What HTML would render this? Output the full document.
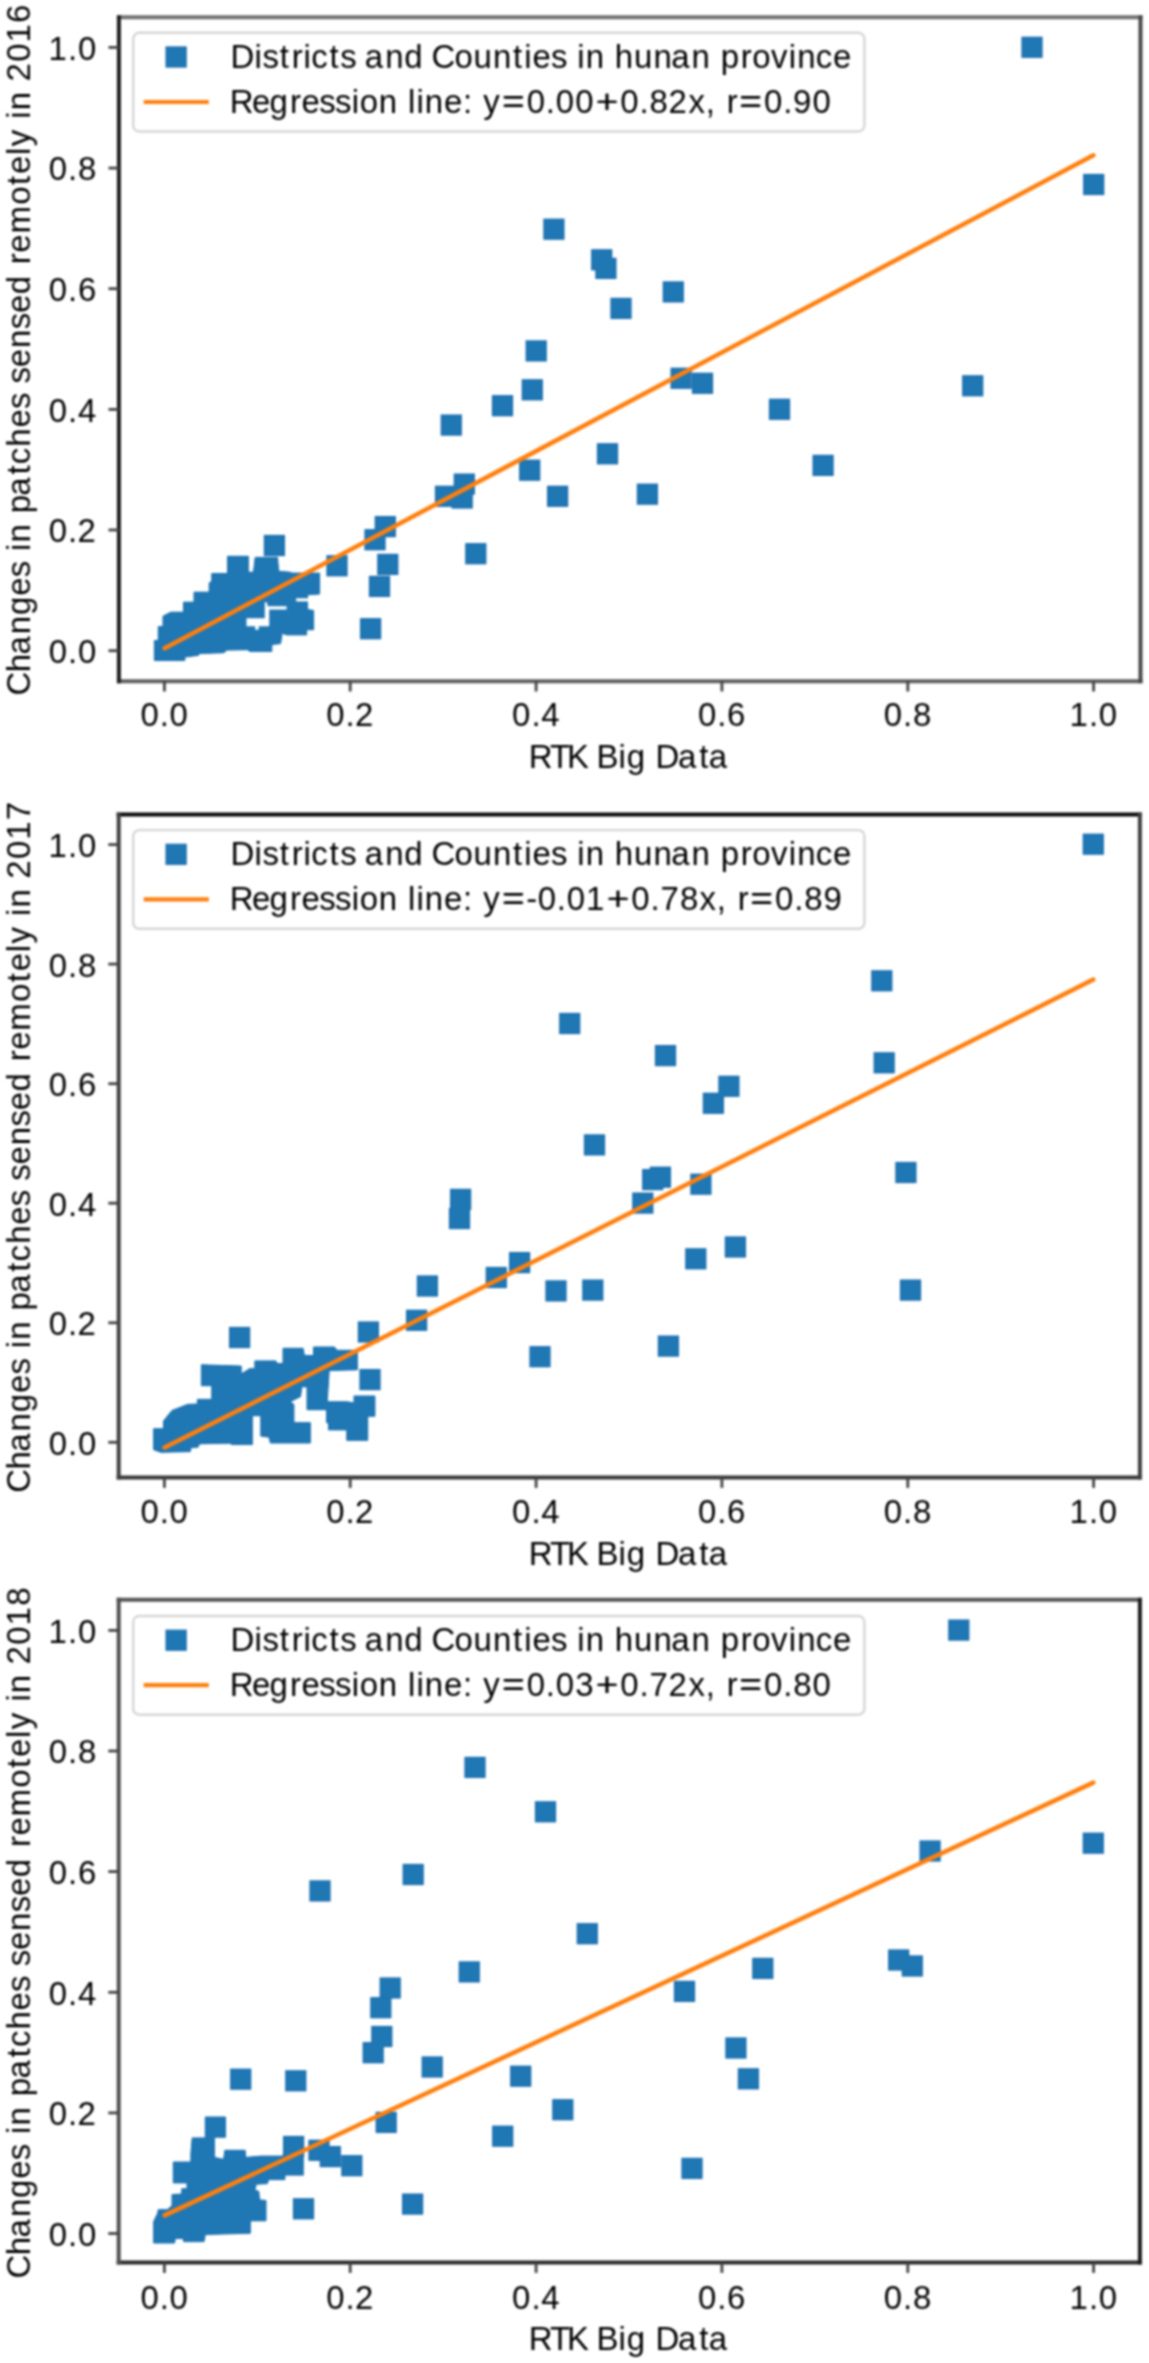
<!DOCTYPE html>
<html><head><meta charset="utf-8"><title>Scatter plots</title>
<style>
html,body{margin:0;padding:0;background:#fff;}
body{width:1149px;height:2363px;overflow:hidden;}
svg{display:block;filter:blur(0.9px);}
text{font-family:"Liberation Sans",sans-serif;font-size:32.3px;fill:#000;}
</style></head>
<body>
<svg width="1149" height="2363" viewBox="0 0 1149 2363">
<rect width="1149" height="2363" fill="#fff"/>
<g fill="#196bac"><rect x="543.30" y="218.60" width="21.20" height="21.20"/><rect x="591.10" y="249.20" width="21.20" height="21.20"/><rect x="595.30" y="257.80" width="21.20" height="21.20"/><rect x="662.70" y="281.30" width="21.20" height="21.20"/><rect x="610.40" y="297.80" width="21.20" height="21.20"/><rect x="525.60" y="340.30" width="21.20" height="21.20"/><rect x="521.70" y="379.20" width="21.20" height="21.20"/><rect x="670.50" y="367.70" width="21.20" height="21.20"/><rect x="691.90" y="372.70" width="21.20" height="21.20"/><rect x="491.90" y="395.10" width="21.20" height="21.20"/><rect x="440.70" y="414.50" width="21.20" height="21.20"/><rect x="596.90" y="443.20" width="21.20" height="21.20"/><rect x="519.10" y="459.60" width="21.20" height="21.20"/><rect x="453.70" y="473.50" width="21.20" height="21.20"/><rect x="434.90" y="485.70" width="21.20" height="21.20"/><rect x="451.60" y="487.40" width="21.20" height="21.20"/><rect x="547.00" y="485.70" width="21.20" height="21.20"/><rect x="636.80" y="483.60" width="21.20" height="21.20"/><rect x="768.90" y="398.70" width="21.20" height="21.20"/><rect x="812.50" y="454.80" width="21.20" height="21.20"/><rect x="962.10" y="375.20" width="21.20" height="21.20"/><rect x="1021.40" y="36.70" width="21.20" height="21.20"/><rect x="1083.10" y="173.90" width="21.20" height="21.20"/><rect x="465.20" y="543.10" width="21.20" height="21.20"/><rect x="374.70" y="516.00" width="21.20" height="21.20"/><rect x="364.40" y="529.10" width="21.20" height="21.20"/><rect x="377.20" y="553.80" width="21.20" height="21.20"/><rect x="326.40" y="555.20" width="21.20" height="21.20"/><rect x="368.90" y="575.80" width="21.20" height="21.20"/><rect x="360.00" y="618.10" width="21.20" height="21.20"/><rect x="263.80" y="534.90" width="21.20" height="21.20"/><polygon points="154.4,660.5 154.4,640.5 158.3,640.5 158.3,626.6 163.0,626.6 163.0,616.2 170.9,612.2 183.5,612.2 183.5,602.2 194.0,602.2 194.0,592.2 209.2,592.2 209.2,583.1 211.8,581.3 211.8,573.5 227.5,573.5 227.5,556.3 248.3,556.3 248.3,572.2 253.5,572.2 255.2,557.4 277.5,557.4 278.7,571.3 290.0,572.2 292.0,573.1 319.6,573.1 319.6,594.0 307.5,594.8 307.5,609.6 313.6,610.5 313.6,629.7 306.6,629.7 306.6,634.9 286.6,634.9 282.2,633.1 280.5,643.6 271.8,644.5 271.8,651.4 250.0,651.4 247.4,649.7 226.6,650.1 224.0,652.7 198.7,653.6 198.7,655.3 184.8,657.1 184.8,660.5" stroke="#196bac" stroke-width="1.0"/></g>
<g fill="#1f77b4"><rect x="544.30" y="219.60" width="19.20" height="19.20"/><rect x="592.10" y="250.20" width="19.20" height="19.20"/><rect x="596.30" y="258.80" width="19.20" height="19.20"/><rect x="663.70" y="282.30" width="19.20" height="19.20"/><rect x="611.40" y="298.80" width="19.20" height="19.20"/><rect x="526.60" y="341.30" width="19.20" height="19.20"/><rect x="522.70" y="380.20" width="19.20" height="19.20"/><rect x="671.50" y="368.70" width="19.20" height="19.20"/><rect x="692.90" y="373.70" width="19.20" height="19.20"/><rect x="492.90" y="396.10" width="19.20" height="19.20"/><rect x="441.70" y="415.50" width="19.20" height="19.20"/><rect x="597.90" y="444.20" width="19.20" height="19.20"/><rect x="520.10" y="460.60" width="19.20" height="19.20"/><rect x="454.70" y="474.50" width="19.20" height="19.20"/><rect x="435.90" y="486.70" width="19.20" height="19.20"/><rect x="452.60" y="488.40" width="19.20" height="19.20"/><rect x="548.00" y="486.70" width="19.20" height="19.20"/><rect x="637.80" y="484.60" width="19.20" height="19.20"/><rect x="769.90" y="399.70" width="19.20" height="19.20"/><rect x="813.50" y="455.80" width="19.20" height="19.20"/><rect x="963.10" y="376.20" width="19.20" height="19.20"/><rect x="1022.40" y="37.70" width="19.20" height="19.20"/><rect x="1084.10" y="174.90" width="19.20" height="19.20"/><rect x="466.20" y="544.10" width="19.20" height="19.20"/><rect x="375.70" y="517.00" width="19.20" height="19.20"/><rect x="365.40" y="530.10" width="19.20" height="19.20"/><rect x="378.20" y="554.80" width="19.20" height="19.20"/><rect x="327.40" y="556.20" width="19.20" height="19.20"/><rect x="369.90" y="576.80" width="19.20" height="19.20"/><rect x="361.00" y="619.10" width="19.20" height="19.20"/><rect x="264.80" y="535.90" width="19.20" height="19.20"/><polygon points="154.4,660.5 154.4,640.5 158.3,640.5 158.3,626.6 163.0,626.6 163.0,616.2 170.9,612.2 183.5,612.2 183.5,602.2 194.0,602.2 194.0,592.2 209.2,592.2 209.2,583.1 211.8,581.3 211.8,573.5 227.5,573.5 227.5,556.3 248.3,556.3 248.3,572.2 253.5,572.2 255.2,557.4 277.5,557.4 278.7,571.3 290.0,572.2 292.0,573.1 319.6,573.1 319.6,594.0 307.5,594.8 307.5,609.6 313.6,610.5 313.6,629.7 306.6,629.7 306.6,634.9 286.6,634.9 282.2,633.1 280.5,643.6 271.8,644.5 271.8,651.4 250.0,651.4 247.4,649.7 226.6,650.1 224.0,652.7 198.7,653.6 198.7,655.3 184.8,657.1 184.8,660.5"/></g>
<polygon fill="#fff" points="246.5,618.3 264.8,618.3 264.8,601.8 267.4,603.0 267.4,606.2 286.6,606.2 286.6,609.6 269.2,609.6 269.2,626.2 258.7,626.2 258.7,629.7 255.2,629.7 255.2,626.2 246.5,626.2"/>
<polygon fill="#fff" points="296.1,598.3 308.6,598.3 308.6,601.4 296.1,601.4"/>

<line x1="164.6" y1="648.3" x2="1093.4" y2="155.3" stroke="#ff7f0e" stroke-width="4.5" stroke-linecap="round"/>
<rect x="133.2" y="32.8" width="731.2" height="98.7" rx="6" fill="#fff" fill-opacity="0.8" stroke="#d6d6d6" stroke-width="2.4"/>
<rect x="166.00" y="46.90" width="20.20" height="20.20" fill="#1f77b4" stroke="#196bac" stroke-width="1.0"/>
<line x1="143.7" y1="102.0" x2="208.8" y2="102.0" stroke="#ff7f0e" stroke-width="4.2"/>
<text transform="translate(230.50 67.80) scale(1.02 1)" x="-0.10 23.65 31.32 48.29 60.07 71.63 79.16 97.13 107.52 123.18 131.75 151.63 170.39 189.05 197.19 219.67 238.25 257.36 277.08 288.10 296.13 314.21 329.87 339.98 348.28 366.69 376.74 395.64 414.75 432.21 452.09 470.50 480.72 500.37 511.54 529.80 547.33 555.63 573.84 590.80" y="0">Districts and Counties in hunan province</text>
<text transform="translate(230.50 112.80) scale(1.02 1)" x="-0.79 21.10 38.25 58.24 69.51 86.93 102.54 118.79 126.71 145.42 163.83 173.92 182.26 190.56 209.26 227.97 237.49 247.79 267.86 290.37 309.15 318.95 338.01 359.65 382.16 400.93 410.73 429.40 449.03 466.00 475.55 486.41 500.51 523.02 541.80 551.51 570.66" y="0">Regression line: y=0.00+0.82x, r=0.90</text><text transform="translate(513.33 112.80) scale(1.23 1)" x="-9.42" y="0">=</text><text transform="translate(606.95 112.80) scale(1.23 1)" x="-9.42" y="0">+</text><text transform="translate(750.64 112.80) scale(1.23 1)" x="-9.42" y="0">=</text>
<line x1="118.9" y1="17.3" x2="1140.5" y2="17.3" stroke="#707070" stroke-width="4.0" stroke-linecap="square"/>
<line x1="118.9" y1="681.2" x2="1140.5" y2="681.2" stroke="#606060" stroke-width="4.0" stroke-linecap="square"/>
<line x1="118.9" y1="17.3" x2="118.9" y2="681.2" stroke="#1e1e1e" stroke-width="4.0" stroke-linecap="square"/>
<line x1="1140.5" y1="17.3" x2="1140.5" y2="681.2" stroke="#484848" stroke-width="4.0" stroke-linecap="square"/>
<g stroke="#444" stroke-width="2.8"><line x1="164.4" y1="681.2" x2="164.4" y2="691.5"/><line x1="108.5" y1="650.7" x2="118.9" y2="650.7"/><line x1="350.2" y1="681.2" x2="350.2" y2="691.5"/><line x1="108.5" y1="530.0" x2="118.9" y2="530.0"/><line x1="536.1" y1="681.2" x2="536.1" y2="691.5"/><line x1="108.5" y1="409.4" x2="118.9" y2="409.4"/><line x1="721.9" y1="681.2" x2="721.9" y2="691.5"/><line x1="108.5" y1="288.7" x2="118.9" y2="288.7"/><line x1="907.8" y1="681.2" x2="907.8" y2="691.5"/><line x1="108.5" y1="168.1" x2="118.9" y2="168.1"/><line x1="1093.6" y1="681.2" x2="1093.6" y2="691.5"/><line x1="108.5" y1="47.4" x2="118.9" y2="47.4"/></g>
<text transform="translate(140.11 726.10) scale(1.02 1)" x="0.34 19.22 28.92" y="0" font-size="33.0">0.0</text>
<text transform="translate(48.41 663.10) scale(1.02 1)" x="0.34 19.22 28.92" y="0" font-size="33.0">0.0</text>
<text transform="translate(325.95 726.10) scale(1.02 1)" x="0.34 19.22 28.53" y="0" font-size="33.0">0.2</text>
<text transform="translate(48.41 542.44) scale(1.02 1)" x="0.34 19.22 28.53" y="0" font-size="33.0">0.2</text>
<text transform="translate(511.79 726.10) scale(1.02 1)" x="0.34 19.22 28.92" y="0" font-size="33.0">0.4</text>
<text transform="translate(48.41 421.78) scale(1.02 1)" x="0.34 19.22 28.92" y="0" font-size="33.0">0.4</text>
<text transform="translate(697.63 726.10) scale(1.02 1)" x="0.34 19.22 28.92" y="0" font-size="33.0">0.6</text>
<text transform="translate(48.41 301.12) scale(1.02 1)" x="0.34 19.22 28.92" y="0" font-size="33.0">0.6</text>
<text transform="translate(883.47 726.10) scale(1.02 1)" x="0.34 19.22 28.92" y="0" font-size="33.0">0.8</text>
<text transform="translate(48.41 180.46) scale(1.02 1)" x="0.34 19.22 28.92" y="0" font-size="33.0">0.8</text>
<text transform="translate(1069.31 726.10) scale(1.02 1)" x="0.16 19.22 28.92" y="0" font-size="33.0">1.0</text>
<text transform="translate(48.41 59.80) scale(1.02 1)" x="0.16 19.22 28.92" y="0" font-size="33.0">1.0</text>
<text transform="translate(529.60 767.50) scale(1.02 1)" x="-0.79 20.10 36.62 56.57 65.53 87.22 95.31 113.97 123.39 145.60 166.21 175.70" y="0">RTK Big Data</text>
<g transform="translate(29.5 349.1) rotate(-90)"><text transform="translate(-345.11 0.00) scale(1.02 1)" x="-1.38 21.44 38.94 58.82 77.59 96.54 114.61 130.28 140.39 148.69 167.10 177.32 194.68 215.29 225.53 242.73 261.47 279.55 295.21 304.68 320.63 339.34 357.69 373.65 392.13 410.79 421.65 432.92 451.61 479.76 499.20 509.93 528.64 537.17 554.11 564.22 572.53 590.94 600.60 620.05 638.94 658.17" y="0">Changes in patches sensed remotely in 2016</text></g>
<g fill="#196bac"><rect x="1082.70" y="833.60" width="21.20" height="21.20"/><rect x="871.20" y="970.20" width="21.20" height="21.20"/><rect x="559.10" y="1012.90" width="21.20" height="21.20"/><rect x="654.90" y="1045.00" width="21.20" height="21.20"/><rect x="873.60" y="1052.20" width="21.20" height="21.20"/><rect x="718.30" y="1075.70" width="21.20" height="21.20"/><rect x="702.80" y="1092.70" width="21.20" height="21.20"/><rect x="583.90" y="1134.30" width="21.20" height="21.20"/><rect x="895.30" y="1161.90" width="21.20" height="21.20"/><rect x="642.10" y="1169.00" width="21.20" height="21.20"/><rect x="649.80" y="1166.60" width="21.20" height="21.20"/><rect x="690.30" y="1173.60" width="21.20" height="21.20"/><rect x="632.20" y="1192.50" width="21.20" height="21.20"/><rect x="450.00" y="1188.80" width="21.20" height="21.20"/><rect x="448.90" y="1207.90" width="21.20" height="21.20"/><rect x="509.00" y="1252.00" width="21.20" height="21.20"/><rect x="685.20" y="1248.20" width="21.20" height="21.20"/><rect x="724.80" y="1236.40" width="21.20" height="21.20"/><rect x="485.70" y="1266.90" width="21.20" height="21.20"/><rect x="416.80" y="1275.40" width="21.20" height="21.20"/><rect x="545.40" y="1280.30" width="21.20" height="21.20"/><rect x="582.20" y="1279.50" width="21.20" height="21.20"/><rect x="899.90" y="1279.50" width="21.20" height="21.20"/><rect x="406.00" y="1309.70" width="21.20" height="21.20"/><rect x="529.40" y="1346.10" width="21.20" height="21.20"/><rect x="657.80" y="1335.50" width="21.20" height="21.20"/><rect x="357.80" y="1321.40" width="21.20" height="21.20"/><rect x="359.40" y="1369.00" width="21.20" height="21.20"/><rect x="229.00" y="1326.90" width="21.20" height="21.20"/><polygon points="153.7,1449.7 153.7,1428.8 163.5,1428.8 163.5,1421.0 172.0,1410.5 187.7,1404.4 197.4,1404.0 197.4,1399.4 211.8,1399.4 211.8,1385.7 201.4,1385.7 201.4,1364.8 241.2,1366.1 241.2,1374.0 249.7,1368.7 254.9,1368.7 254.9,1360.9 275.8,1360.9 277.1,1363.5 283.0,1363.5 283.0,1348.3 303.1,1348.3 304.4,1355.5 313.5,1355.5 313.5,1347.0 334.4,1347.0 337.0,1350.3 357.3,1350.3 357.3,1369.8 329.2,1370.5 327.2,1401.8 347.5,1401.8 354.0,1403.1 354.0,1396.0 374.9,1396.0 374.9,1416.2 367.7,1416.2 367.7,1440.3 346.8,1440.3 346.8,1429.9 328.5,1429.9 328.5,1422.7 326.6,1422.7 326.6,1409.7 307.0,1409.7 307.0,1386.8 301.8,1386.8 300.5,1396.6 290.0,1401.8 293.9,1404.4 293.9,1422.7 310.3,1422.7 310.3,1443.0 270.4,1443.0 269.1,1437.1 269.9,1437.3 260.8,1436.0 260.8,1415.7 252.3,1415.7 252.3,1444.5 231.4,1444.5 230.1,1443.2 199.4,1443.8 198.1,1447.1 190.9,1447.7 190.3,1451.6 160.9,1452.3" stroke="#196bac" stroke-width="1.0"/></g>
<g fill="#1f77b4"><rect x="1083.70" y="834.60" width="19.20" height="19.20"/><rect x="872.20" y="971.20" width="19.20" height="19.20"/><rect x="560.10" y="1013.90" width="19.20" height="19.20"/><rect x="655.90" y="1046.00" width="19.20" height="19.20"/><rect x="874.60" y="1053.20" width="19.20" height="19.20"/><rect x="719.30" y="1076.70" width="19.20" height="19.20"/><rect x="703.80" y="1093.70" width="19.20" height="19.20"/><rect x="584.90" y="1135.30" width="19.20" height="19.20"/><rect x="896.30" y="1162.90" width="19.20" height="19.20"/><rect x="643.10" y="1170.00" width="19.20" height="19.20"/><rect x="650.80" y="1167.60" width="19.20" height="19.20"/><rect x="691.30" y="1174.60" width="19.20" height="19.20"/><rect x="633.20" y="1193.50" width="19.20" height="19.20"/><rect x="451.00" y="1189.80" width="19.20" height="19.20"/><rect x="449.90" y="1208.90" width="19.20" height="19.20"/><rect x="510.00" y="1253.00" width="19.20" height="19.20"/><rect x="686.20" y="1249.20" width="19.20" height="19.20"/><rect x="725.80" y="1237.40" width="19.20" height="19.20"/><rect x="486.70" y="1267.90" width="19.20" height="19.20"/><rect x="417.80" y="1276.40" width="19.20" height="19.20"/><rect x="546.40" y="1281.30" width="19.20" height="19.20"/><rect x="583.20" y="1280.50" width="19.20" height="19.20"/><rect x="900.90" y="1280.50" width="19.20" height="19.20"/><rect x="407.00" y="1310.70" width="19.20" height="19.20"/><rect x="530.40" y="1347.10" width="19.20" height="19.20"/><rect x="658.80" y="1336.50" width="19.20" height="19.20"/><rect x="358.80" y="1322.40" width="19.20" height="19.20"/><rect x="360.40" y="1370.00" width="19.20" height="19.20"/><rect x="230.00" y="1327.90" width="19.20" height="19.20"/><polygon points="153.7,1449.7 153.7,1428.8 163.5,1428.8 163.5,1421.0 172.0,1410.5 187.7,1404.4 197.4,1404.0 197.4,1399.4 211.8,1399.4 211.8,1385.7 201.4,1385.7 201.4,1364.8 241.2,1366.1 241.2,1374.0 249.7,1368.7 254.9,1368.7 254.9,1360.9 275.8,1360.9 277.1,1363.5 283.0,1363.5 283.0,1348.3 303.1,1348.3 304.4,1355.5 313.5,1355.5 313.5,1347.0 334.4,1347.0 337.0,1350.3 357.3,1350.3 357.3,1369.8 329.2,1370.5 327.2,1401.8 347.5,1401.8 354.0,1403.1 354.0,1396.0 374.9,1396.0 374.9,1416.2 367.7,1416.2 367.7,1440.3 346.8,1440.3 346.8,1429.9 328.5,1429.9 328.5,1422.7 326.6,1422.7 326.6,1409.7 307.0,1409.7 307.0,1386.8 301.8,1386.8 300.5,1396.6 290.0,1401.8 293.9,1404.4 293.9,1422.7 310.3,1422.7 310.3,1443.0 270.4,1443.0 269.1,1437.1 269.9,1437.3 260.8,1436.0 260.8,1415.7 252.3,1415.7 252.3,1444.5 231.4,1444.5 230.1,1443.2 199.4,1443.8 198.1,1447.1 190.9,1447.7 190.3,1451.6 160.9,1452.3"/></g>

<line x1="164.6" y1="1447.5" x2="1093.3" y2="979.6" stroke="#ff7f0e" stroke-width="4.5" stroke-linecap="round"/>
<rect x="133.2" y="830.1" width="731.2" height="98.7" rx="6" fill="#fff" fill-opacity="0.8" stroke="#d6d6d6" stroke-width="2.4"/>
<rect x="166.00" y="844.20" width="20.20" height="20.20" fill="#1f77b4" stroke="#196bac" stroke-width="1.0"/>
<line x1="143.7" y1="899.3" x2="208.8" y2="899.3" stroke="#ff7f0e" stroke-width="4.2"/>
<text transform="translate(230.50 865.10) scale(1.02 1)" x="-0.10 23.65 31.32 48.29 60.07 71.63 79.16 97.13 107.52 123.18 131.75 151.63 170.39 189.05 197.19 219.67 238.25 257.36 277.08 288.10 296.13 314.21 329.87 339.98 348.28 366.69 376.74 395.64 414.75 432.21 452.09 470.50 480.72 500.37 511.54 529.80 547.33 555.63 573.84 590.80" y="0">Districts and Counties in hunan province</text>
<text transform="translate(230.50 910.10) scale(1.02 1)" x="-0.79 21.10 38.25 58.24 69.51 86.93 102.54 118.79 126.71 145.42 163.83 173.92 182.26 190.56 209.26 227.97 237.49 247.79 267.86 289.86 301.18 319.96 329.76 348.64 370.45 392.97 411.74 421.48 440.60 459.84 476.81 486.36 497.22 511.32 533.83 552.61 562.41 581.37" y="0">Regression line: y=-0.01+0.78x, r=0.89</text><text transform="translate(513.33 910.10) scale(1.23 1)" x="-9.42" y="0">=</text><text transform="translate(617.98 910.10) scale(1.23 1)" x="-9.42" y="0">+</text><text transform="translate(761.66 910.10) scale(1.23 1)" x="-9.42" y="0">=</text>
<line x1="118.7" y1="814.4" x2="1139.9" y2="814.4" stroke="#0a0a0a" stroke-width="4.0" stroke-linecap="square"/>
<line x1="118.7" y1="1477.6" x2="1139.9" y2="1477.6" stroke="#383838" stroke-width="4.0" stroke-linecap="square"/>
<line x1="118.7" y1="814.4" x2="118.7" y2="1477.6" stroke="#404040" stroke-width="4.0" stroke-linecap="square"/>
<line x1="1139.9" y1="814.4" x2="1139.9" y2="1477.6" stroke="#404040" stroke-width="4.0" stroke-linecap="square"/>
<g stroke="#444" stroke-width="2.8"><line x1="164.4" y1="1477.6" x2="164.4" y2="1487.9"/><line x1="108.3" y1="1442.3" x2="118.7" y2="1442.3"/><line x1="350.2" y1="1477.6" x2="350.2" y2="1487.9"/><line x1="108.3" y1="1322.8" x2="118.7" y2="1322.8"/><line x1="536.1" y1="1477.6" x2="536.1" y2="1487.9"/><line x1="108.3" y1="1203.2" x2="118.7" y2="1203.2"/><line x1="721.9" y1="1477.6" x2="721.9" y2="1487.9"/><line x1="108.3" y1="1083.7" x2="118.7" y2="1083.7"/><line x1="907.8" y1="1477.6" x2="907.8" y2="1487.9"/><line x1="108.3" y1="964.1" x2="118.7" y2="964.1"/><line x1="1093.6" y1="1477.6" x2="1093.6" y2="1487.9"/><line x1="108.3" y1="844.6" x2="118.7" y2="844.6"/></g>
<text transform="translate(140.11 1523.10) scale(1.02 1)" x="0.34 19.22 28.92" y="0" font-size="33.0">0.0</text>
<text transform="translate(48.41 1454.70) scale(1.02 1)" x="0.34 19.22 28.92" y="0" font-size="33.0">0.0</text>
<text transform="translate(325.95 1523.10) scale(1.02 1)" x="0.34 19.22 28.53" y="0" font-size="33.0">0.2</text>
<text transform="translate(48.41 1335.16) scale(1.02 1)" x="0.34 19.22 28.53" y="0" font-size="33.0">0.2</text>
<text transform="translate(511.79 1523.10) scale(1.02 1)" x="0.34 19.22 28.92" y="0" font-size="33.0">0.4</text>
<text transform="translate(48.41 1215.62) scale(1.02 1)" x="0.34 19.22 28.92" y="0" font-size="33.0">0.4</text>
<text transform="translate(697.63 1523.10) scale(1.02 1)" x="0.34 19.22 28.92" y="0" font-size="33.0">0.6</text>
<text transform="translate(48.41 1096.08) scale(1.02 1)" x="0.34 19.22 28.92" y="0" font-size="33.0">0.6</text>
<text transform="translate(883.47 1523.10) scale(1.02 1)" x="0.34 19.22 28.92" y="0" font-size="33.0">0.8</text>
<text transform="translate(48.41 976.54) scale(1.02 1)" x="0.34 19.22 28.92" y="0" font-size="33.0">0.8</text>
<text transform="translate(1069.31 1523.10) scale(1.02 1)" x="0.16 19.22 28.92" y="0" font-size="33.0">1.0</text>
<text transform="translate(48.41 857.00) scale(1.02 1)" x="0.16 19.22 28.92" y="0" font-size="33.0">1.0</text>
<text transform="translate(529.60 1564.50) scale(1.02 1)" x="-0.79 20.10 36.62 56.57 65.53 87.22 95.31 113.97 123.39 145.60 166.21 175.70" y="0">RTK Big Data</text>
<g transform="translate(29.5 1146.3) rotate(-90)"><text transform="translate(-345.11 0.00) scale(1.02 1)" x="-1.38 21.44 38.94 58.82 77.59 96.54 114.61 130.28 140.39 148.69 167.10 177.32 194.68 215.29 225.53 242.73 261.47 279.55 295.21 304.68 320.63 339.34 357.69 373.65 392.13 410.79 421.65 432.92 451.61 479.76 499.20 509.93 528.64 537.17 554.11 564.22 572.53 590.94 600.60 620.05 638.94 658.11" y="0">Changes in patches sensed remotely in 2017</text></g>
<g fill="#196bac"><rect x="948.20" y="1619.50" width="21.20" height="21.20"/><rect x="464.40" y="1756.80" width="21.20" height="21.20"/><rect x="534.90" y="1801.20" width="21.20" height="21.20"/><rect x="402.60" y="1863.90" width="21.20" height="21.20"/><rect x="309.40" y="1880.30" width="21.20" height="21.20"/><rect x="576.70" y="1923.10" width="21.20" height="21.20"/><rect x="458.70" y="1961.30" width="21.20" height="21.20"/><rect x="379.60" y="1977.40" width="21.20" height="21.20"/><rect x="370.20" y="1997.10" width="21.20" height="21.20"/><rect x="371.20" y="2025.90" width="21.20" height="21.20"/><rect x="362.60" y="2042.10" width="21.20" height="21.20"/><rect x="421.60" y="2056.40" width="21.20" height="21.20"/><rect x="285.20" y="2070.20" width="21.20" height="21.20"/><rect x="230.10" y="2068.60" width="21.20" height="21.20"/><rect x="510.10" y="2065.60" width="21.20" height="21.20"/><rect x="552.20" y="2099.10" width="21.20" height="21.20"/><rect x="375.60" y="2111.80" width="21.20" height="21.20"/><rect x="492.10" y="2125.60" width="21.20" height="21.20"/><rect x="283.00" y="2135.90" width="21.20" height="21.20"/><rect x="282.60" y="2154.40" width="21.20" height="21.20"/><rect x="308.40" y="2139.70" width="21.20" height="21.20"/><rect x="319.70" y="2146.00" width="21.20" height="21.20"/><rect x="341.20" y="2155.10" width="21.20" height="21.20"/><rect x="292.90" y="2198.20" width="21.20" height="21.20"/><rect x="402.00" y="2193.50" width="21.20" height="21.20"/><rect x="673.90" y="1980.80" width="21.20" height="21.20"/><rect x="752.20" y="1957.80" width="21.20" height="21.20"/><rect x="725.30" y="2037.40" width="21.20" height="21.20"/><rect x="737.80" y="2068.20" width="21.20" height="21.20"/><rect x="681.40" y="2157.80" width="21.20" height="21.20"/><rect x="919.50" y="1840.40" width="21.20" height="21.20"/><rect x="1082.70" y="1832.60" width="21.20" height="21.20"/><rect x="888.10" y="1949.40" width="21.20" height="21.20"/><rect x="901.70" y="1955.40" width="21.20" height="21.20"/><polygon points="153.7,2243.0 153.7,2221.4 157.6,2213.6 158.3,2209.7 167.4,2209.7 172.0,2205.7 172.0,2194.6 181.8,2194.0 181.8,2188.8 187.0,2188.8 187.0,2182.9 173.3,2182.9 173.3,2162.0 190.9,2162.0 190.9,2153.5 192.2,2137.9 205.3,2137.9 205.3,2117.0 225.5,2117.0 225.5,2137.2 214.4,2137.2 214.4,2157.4 223.6,2159.4 224.9,2150.3 245.1,2150.3 245.7,2157.4 261.4,2156.1 284.9,2156.1 284.9,2179.6 268.6,2179.6 267.3,2183.6 256.2,2184.2 254.9,2190.1 258.8,2191.4 259.5,2199.9 266.0,2200.5 266.0,2220.8 250.3,2220.8 250.3,2233.2 205.3,2234.5 204.0,2241.6 183.7,2241.6 183.1,2238.4 175.2,2238.4 174.6,2243.0" stroke="#196bac" stroke-width="1.0"/></g>
<g fill="#1f77b4"><rect x="949.20" y="1620.50" width="19.20" height="19.20"/><rect x="465.40" y="1757.80" width="19.20" height="19.20"/><rect x="535.90" y="1802.20" width="19.20" height="19.20"/><rect x="403.60" y="1864.90" width="19.20" height="19.20"/><rect x="310.40" y="1881.30" width="19.20" height="19.20"/><rect x="577.70" y="1924.10" width="19.20" height="19.20"/><rect x="459.70" y="1962.30" width="19.20" height="19.20"/><rect x="380.60" y="1978.40" width="19.20" height="19.20"/><rect x="371.20" y="1998.10" width="19.20" height="19.20"/><rect x="372.20" y="2026.90" width="19.20" height="19.20"/><rect x="363.60" y="2043.10" width="19.20" height="19.20"/><rect x="422.60" y="2057.40" width="19.20" height="19.20"/><rect x="286.20" y="2071.20" width="19.20" height="19.20"/><rect x="231.10" y="2069.60" width="19.20" height="19.20"/><rect x="511.10" y="2066.60" width="19.20" height="19.20"/><rect x="553.20" y="2100.10" width="19.20" height="19.20"/><rect x="376.60" y="2112.80" width="19.20" height="19.20"/><rect x="493.10" y="2126.60" width="19.20" height="19.20"/><rect x="284.00" y="2136.90" width="19.20" height="19.20"/><rect x="283.60" y="2155.40" width="19.20" height="19.20"/><rect x="309.40" y="2140.70" width="19.20" height="19.20"/><rect x="320.70" y="2147.00" width="19.20" height="19.20"/><rect x="342.20" y="2156.10" width="19.20" height="19.20"/><rect x="293.90" y="2199.20" width="19.20" height="19.20"/><rect x="403.00" y="2194.50" width="19.20" height="19.20"/><rect x="674.90" y="1981.80" width="19.20" height="19.20"/><rect x="753.20" y="1958.80" width="19.20" height="19.20"/><rect x="726.30" y="2038.40" width="19.20" height="19.20"/><rect x="738.80" y="2069.20" width="19.20" height="19.20"/><rect x="682.40" y="2158.80" width="19.20" height="19.20"/><rect x="920.50" y="1841.40" width="19.20" height="19.20"/><rect x="1083.70" y="1833.60" width="19.20" height="19.20"/><rect x="889.10" y="1950.40" width="19.20" height="19.20"/><rect x="902.70" y="1956.40" width="19.20" height="19.20"/><polygon points="153.7,2243.0 153.7,2221.4 157.6,2213.6 158.3,2209.7 167.4,2209.7 172.0,2205.7 172.0,2194.6 181.8,2194.0 181.8,2188.8 187.0,2188.8 187.0,2182.9 173.3,2182.9 173.3,2162.0 190.9,2162.0 190.9,2153.5 192.2,2137.9 205.3,2137.9 205.3,2117.0 225.5,2117.0 225.5,2137.2 214.4,2137.2 214.4,2157.4 223.6,2159.4 224.9,2150.3 245.1,2150.3 245.7,2157.4 261.4,2156.1 284.9,2156.1 284.9,2179.6 268.6,2179.6 267.3,2183.6 256.2,2184.2 254.9,2190.1 258.8,2191.4 259.5,2199.9 266.0,2200.5 266.0,2220.8 250.3,2220.8 250.3,2233.2 205.3,2234.5 204.0,2241.6 183.7,2241.6 183.1,2238.4 175.2,2238.4 174.6,2243.0"/></g>

<line x1="164.6" y1="2215.4" x2="1093.3" y2="1782.6" stroke="#ff7f0e" stroke-width="4.5" stroke-linecap="round"/>
<rect x="133.2" y="1616.0" width="731.2" height="98.7" rx="6" fill="#fff" fill-opacity="0.8" stroke="#d6d6d6" stroke-width="2.4"/>
<rect x="166.00" y="1630.10" width="20.20" height="20.20" fill="#1f77b4" stroke="#196bac" stroke-width="1.0"/>
<line x1="143.7" y1="1685.2" x2="208.8" y2="1685.2" stroke="#ff7f0e" stroke-width="4.2"/>
<text transform="translate(230.50 1651.00) scale(1.02 1)" x="-0.10 23.65 31.32 48.29 60.07 71.63 79.16 97.13 107.52 123.18 131.75 151.63 170.39 189.05 197.19 219.67 238.25 257.36 277.08 288.10 296.13 314.21 329.87 339.98 348.28 366.69 376.74 395.64 414.75 432.21 452.09 470.50 480.72 500.37 511.54 529.80 547.33 555.63 573.84 590.80" y="0">Districts and Counties in hunan province</text>
<text transform="translate(230.50 1696.00) scale(1.02 1)" x="-0.79 21.10 38.25 58.24 69.51 86.93 102.54 118.79 126.71 145.42 163.83 173.92 182.26 190.56 209.26 227.97 237.49 247.79 267.86 290.37 309.15 318.95 338.05 359.65 382.16 400.93 410.67 429.40 449.03 466.00 475.55 486.41 500.51 523.02 541.80 551.60 570.66" y="0">Regression line: y=0.03+0.72x, r=0.80</text><text transform="translate(513.33 1696.00) scale(1.23 1)" x="-9.42" y="0">=</text><text transform="translate(606.95 1696.00) scale(1.23 1)" x="-9.42" y="0">+</text><text transform="translate(750.64 1696.00) scale(1.23 1)" x="-9.42" y="0">=</text>
<line x1="118.7" y1="1599.8" x2="1139.9" y2="1599.8" stroke="#565656" stroke-width="4.0" stroke-linecap="square"/>
<line x1="118.7" y1="2262.6" x2="1139.9" y2="2262.6" stroke="#2a2a2a" stroke-width="4.0" stroke-linecap="square"/>
<line x1="118.7" y1="1599.8" x2="118.7" y2="2262.6" stroke="#505050" stroke-width="4.0" stroke-linecap="square"/>
<line x1="1139.9" y1="1599.8" x2="1139.9" y2="2262.6" stroke="#1c1c1c" stroke-width="4.0" stroke-linecap="square"/>
<g stroke="#444" stroke-width="2.8"><line x1="164.4" y1="2262.6" x2="164.4" y2="2272.9"/><line x1="108.3" y1="2233.5" x2="118.7" y2="2233.5"/><line x1="350.2" y1="2262.6" x2="350.2" y2="2272.9"/><line x1="108.3" y1="2112.9" x2="118.7" y2="2112.9"/><line x1="536.1" y1="2262.6" x2="536.1" y2="2272.9"/><line x1="108.3" y1="1992.3" x2="118.7" y2="1992.3"/><line x1="721.9" y1="2262.6" x2="721.9" y2="2272.9"/><line x1="108.3" y1="1871.6" x2="118.7" y2="1871.6"/><line x1="907.8" y1="2262.6" x2="907.8" y2="2272.9"/><line x1="108.3" y1="1751.0" x2="118.7" y2="1751.0"/><line x1="1093.6" y1="2262.6" x2="1093.6" y2="2272.9"/><line x1="108.3" y1="1630.4" x2="118.7" y2="1630.4"/></g>
<text transform="translate(140.11 2308.60) scale(1.02 1)" x="0.34 19.22 28.92" y="0" font-size="33.0">0.0</text>
<text transform="translate(48.41 2245.90) scale(1.02 1)" x="0.34 19.22 28.92" y="0" font-size="33.0">0.0</text>
<text transform="translate(325.95 2308.60) scale(1.02 1)" x="0.34 19.22 28.53" y="0" font-size="33.0">0.2</text>
<text transform="translate(48.41 2125.28) scale(1.02 1)" x="0.34 19.22 28.53" y="0" font-size="33.0">0.2</text>
<text transform="translate(511.79 2308.60) scale(1.02 1)" x="0.34 19.22 28.92" y="0" font-size="33.0">0.4</text>
<text transform="translate(48.41 2004.66) scale(1.02 1)" x="0.34 19.22 28.92" y="0" font-size="33.0">0.4</text>
<text transform="translate(697.63 2308.60) scale(1.02 1)" x="0.34 19.22 28.92" y="0" font-size="33.0">0.6</text>
<text transform="translate(48.41 1884.04) scale(1.02 1)" x="0.34 19.22 28.92" y="0" font-size="33.0">0.6</text>
<text transform="translate(883.47 2308.60) scale(1.02 1)" x="0.34 19.22 28.92" y="0" font-size="33.0">0.8</text>
<text transform="translate(48.41 1763.42) scale(1.02 1)" x="0.34 19.22 28.92" y="0" font-size="33.0">0.8</text>
<text transform="translate(1069.31 2308.60) scale(1.02 1)" x="0.16 19.22 28.92" y="0" font-size="33.0">1.0</text>
<text transform="translate(48.41 1642.80) scale(1.02 1)" x="0.16 19.22 28.92" y="0" font-size="33.0">1.0</text>
<text transform="translate(529.60 2350.00) scale(1.02 1)" x="-0.79 20.10 36.62 56.57 65.53 87.22 95.31 113.97 123.39 145.60 166.21 175.70" y="0">RTK Big Data</text>
<g transform="translate(29.5 1932.0) rotate(-90)"><text transform="translate(-345.11 0.00) scale(1.02 1)" x="-1.38 21.44 38.94 58.82 77.59 96.54 114.61 130.28 140.39 148.69 167.10 177.32 194.68 215.29 225.53 242.73 261.47 279.55 295.21 304.68 320.63 339.34 357.69 373.65 392.13 410.79 421.65 432.92 451.61 479.76 499.20 509.93 528.64 537.17 554.11 564.22 572.53 590.94 600.60 620.05 638.94 658.17" y="0">Changes in patches sensed remotely in 2018</text></g>
</svg>
</body></html>
